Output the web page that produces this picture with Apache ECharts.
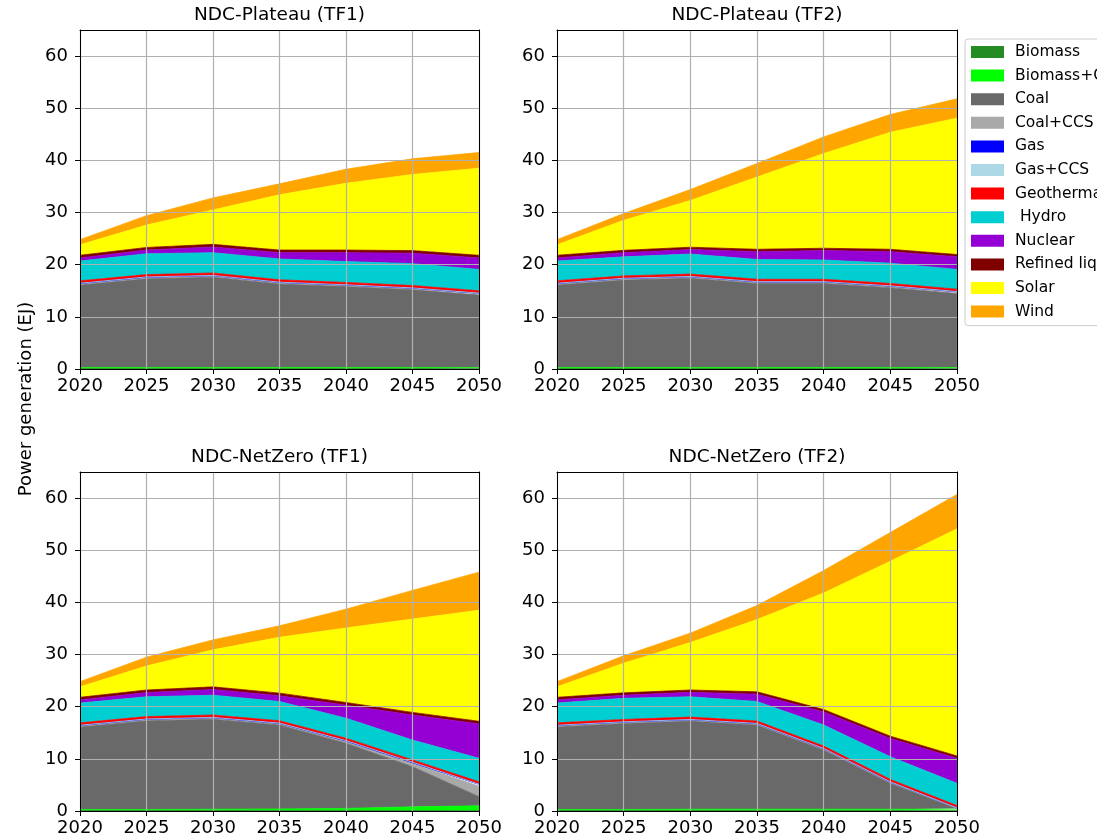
<!DOCTYPE html>
<html>
<head>
<meta charset="utf-8">
<title>Power generation by technology</title>
<script src="https://cdn.jsdelivr.net/npm/echarts@6.0.0/dist/echarts.min.js"></script>
<style>
  html, body { margin: 0; padding: 0; background: #fff; }
  #chart { width: 1097px; height: 840px; }
</style>
</head>
<body>
<div id="chart"></div>
<script>
// Years on the horizontal axis
const years = ['2020', '2025', '2030', '2035', '2040', '2045', '2050'];

// Panel titles (row by row)
const panelTitles = ['NDC-Plateau (TF1)', 'NDC-Plateau (TF2)', 'NDC-NetZero (TF1)', 'NDC-NetZero (TF2)'];

// Technology names as stacked (bottom to top)
const techNames = ['Biomass', 'Biomass+CCS', 'Coal', 'Coal+CCS', 'Gas', 'Gas+CCS',
  'Geothermal', ' Hydro', 'Nuclear', 'Refined liquids', 'Solar', 'Wind'];
const techColors = ['#228B22', '#00FF00', '#696969', '#A9A9A9', '#0000FF', '#ADD8E6',
  '#FF0000', '#00CED1', '#9400D3', '#800000', '#FFFF00', '#FFA500'];

// Generation in EJ, one row per panel: Plateau TF1, Plateau TF2, NetZero TF1, NetZero TF2
const biomass = [
  [0.1, 0.1, 0.1, 0.1, 0.1, 0.1, 0.1],
  [0.1, 0.1, 0.1, 0.1, 0.1, 0.1, 0.1],
  [0.1, 0.1, 0.1, 0.1, 0.1, 0.1, 0.1],
  [0.1, 0.1, 0.1, 0.1, 0.1, 0.1, 0.1]
];
const biomassCCS = [
  [0.2, 0.2, 0.2, 0.2, 0.2, 0.2, 0.2],
  [0.2, 0.2, 0.2, 0.2, 0.2, 0.2, 0.2],
  [0.2, 0.2, 0.25, 0.3, 0.4, 0.7, 0.9],
  [0.2, 0.2, 0.25, 0.25, 0.25, 0.25, 0.25]
];
const coal = [
  [15.8, 17.0, 17.3, 16.0, 15.5, 14.9, 13.9],
  [15.8, 16.75, 17.1, 16.1, 16.1, 15.3, 14.2],
  [15.8, 17.0, 17.25, 16.1, 12.5, 7.7, 1.75],
  [15.8, 16.5, 16.9, 16.15, 11.35, 4.95, 0.15]
];
const coalCCS = [
  [0.2, 0.2, 0.2, 0.2, 0.2, 0.2, 0.2],
  [0.2, 0.2, 0.2, 0.2, 0.2, 0.2, 0.2],
  [0.2, 0.2, 0.2, 0.2, 0.3, 0.6, 2.0],
  [0.2, 0.15, 0.15, 0.15, 0.15, 0.15, 0.05]
];
const gas = [
  [0.1, 0.1, 0.1, 0.1, 0.1, 0.1, 0.1],
  [0.1, 0.1, 0.1, 0.1, 0.1, 0.1, 0.1],
  [0.1, 0.1, 0.1, 0.1, 0.15, 0.2, 0.35],
  [0.1, 0.1, 0.1, 0.1, 0.1, 0.1, 0.05]
];
const gasCCS = [
  [0.05, 0.05, 0.05, 0.05, 0.05, 0.05, 0.05],
  [0.05, 0.05, 0.05, 0.05, 0.05, 0.05, 0.05],
  [0.05, 0.05, 0.05, 0.05, 0.05, 0.05, 0.05],
  [0.05, 0.05, 0.05, 0.05, 0.05, 0.05, 0.0]
];
const geothermal = [
  [0.45, 0.45, 0.45, 0.45, 0.45, 0.45, 0.45],
  [0.45, 0.45, 0.45, 0.45, 0.45, 0.45, 0.45],
  [0.45, 0.45, 0.45, 0.45, 0.45, 0.45, 0.45],
  [0.45, 0.45, 0.45, 0.45, 0.45, 0.45, 0.45]
];
const hydro = [
  [3.8, 4.0, 3.9, 4.0, 4.0, 4.2, 4.1],
  [3.8, 3.65, 3.85, 3.8, 3.7, 3.9, 3.8],
  [3.8, 3.8, 3.8, 3.7, 3.85, 3.8, 4.5],
  [3.8, 4.05, 3.9, 3.75, 4.05, 4.35, 4.25]
];
const nuclear = [
  [0.6, 0.7, 1.1, 1.2, 1.7, 2.0, 2.2],
  [0.6, 0.8, 0.85, 1.5, 1.8, 2.2, 2.4],
  [0.6, 0.8, 1.1, 1.1, 2.5, 4.8, 6.6],
  [0.6, 0.6, 0.85, 1.4, 2.5, 3.5, 4.8]
];
const refinedLiquids = [
  [0.5, 0.5, 0.5, 0.5, 0.5, 0.5, 0.5],
  [0.5, 0.45, 0.45, 0.45, 0.45, 0.45, 0.45],
  [0.5, 0.5, 0.5, 0.5, 0.5, 0.5, 0.5],
  [0.5, 0.45, 0.45, 0.45, 0.45, 0.45, 0.45]
];
const solar = [
  [2.0, 4.3, 6.6, 10.6, 12.8, 14.6, 16.7],
  [2.0, 5.75, 8.95, 13.85, 18.15, 22.45, 26.15],
  [2.0, 4.6, 7.1, 10.7, 14.3, 17.9, 21.3],
  [2.0, 5.7, 9.1, 13.85, 22.35, 33.55, 43.55]
];
const wind = [
  [1.0, 1.8, 2.3, 2.1, 2.7, 3.0, 3.0],
  [1.0, 1.3, 2.1, 2.6, 3.2, 3.4, 3.7],
  [1.0, 1.7, 1.9, 2.2, 3.6, 5.5, 7.3],
  [1.0, 1.4, 1.8, 2.7, 4.3, 5.5, 6.6]
];

// Y-axis tick values
const yTicks = [0, 10, 20, 30, 40, 50, 60];

const techData = [biomass, biomassCCS, coal, coalCCS, gas, gasCCS,
  geothermal, hydro, nuclear, refinedLiquids, solar, wind];

const FONT = 'DejaVu Sans';
const grids = [
  { left: 80, top: 30, width: 399, height: 339 },
  { left: 557, top: 30, width: 400, height: 339 },
  { left: 80, top: 472, width: 399, height: 339 },
  { left: 557, top: 472, width: 400, height: 339 }
];

const spine = { show: true, onZero: false, lineStyle: { color: '#000', width: 1 } };
const gridLine = { show: true, lineStyle: { color: '#b0b0b0', width: 1.2 } };

const xAxes = [], yAxes = [], series = [], graphics = [];

grids.forEach((g, p) => {
  // bottom axis with labels + top spine
  xAxes.push({
    type: 'category', gridIndex: p, data: years, boundaryGap: false, position: 'bottom', z: 3,
    axisLine: spine,
    axisTick: { show: true, length: 5, inside: false, lineStyle: { color: '#000' } },
    axisLabel: { interval: 0, fontSize: 18, fontFamily: FONT, color: '#000', margin: 8 },
    splitLine: gridLine
  });
  xAxes.push({
    type: 'category', gridIndex: p, data: years, boundaryGap: false, position: 'top', z: 3,
    axisLine: spine, axisTick: { show: false }, axisLabel: { show: false }, splitLine: { show: false }
  });
  // left axis with labels + right spine
  yAxes.push({
    type: 'value', gridIndex: p, min: 0, max: 65, interval: 10, position: 'left', z: 3,
    axisLine: spine,
    axisTick: { show: true, length: 5, lineStyle: { color: '#000' }, customValues: yTicks },
    axisLabel: { fontSize: 18, fontFamily: FONT, color: '#000', margin: 12, customValues: yTicks },
    splitLine: gridLine
  });
  yAxes.push({
    type: 'value', gridIndex: p, min: 0, max: 65, interval: 10, position: 'right', z: 3,
    axisLine: spine, axisTick: { show: false }, axisLabel: { show: false }, splitLine: { show: false }
  });

  techNames.forEach((name, t) => {
    series.push({
      type: 'line', name: name, xAxisIndex: 2 * p, yAxisIndex: 2 * p,
      stack: 'panel' + p, data: techData[t][p], symbol: 'none', z: 2,
      lineStyle: { color: techColors[t], width: 0.8 },
      areaStyle: { color: techColors[t], opacity: 1 },
      itemStyle: { color: techColors[t] },
      emphasis: { disabled: true }
    });
  });

  graphics.push({
    type: 'text', x: g.left + g.width / 2, y: g.top - 15,
    style: { text: panelTitles[p], fontSize: 18.5, fontFamily: FONT, fill: '#000', align: 'center', verticalAlign: 'middle' }
  });
});

graphics.push({
  type: 'text', x: 26, y: 399, rotation: Math.PI / 2,
  style: { text: 'Power generation (EJ)', fontSize: 18, fontFamily: FONT, fill: '#000', align: 'center', verticalAlign: 'middle' }
});

const chart = echarts.init(document.getElementById('chart'), null, { renderer: 'canvas' });
chart.setOption({
  animation: false,
  backgroundColor: '#fff',
  grid: grids.map(g => Object.assign({ containLabel: false }, g)),
  xAxis: xAxes,
  yAxis: yAxes,
  series: series,
  graphic: graphics,
  legend: {
    data: techNames, orient: 'vertical', left: 965, top: 39,
    icon: 'rect', itemWidth: 33, itemHeight: 12, itemGap: 7.6,
    padding: [5, 6, 6, 6],
    borderColor: '#cccccc', borderWidth: 1, borderRadius: 3,
    backgroundColor: 'rgba(255,255,255,0.8)',
    selectedMode: false,
    textStyle: { fontSize: 15.5, fontFamily: FONT, color: '#000', lineHeight: 16, padding: [0, 0, 0, 6] }
  },
  tooltip: { show: false }
});
</script>
</body>
</html>
